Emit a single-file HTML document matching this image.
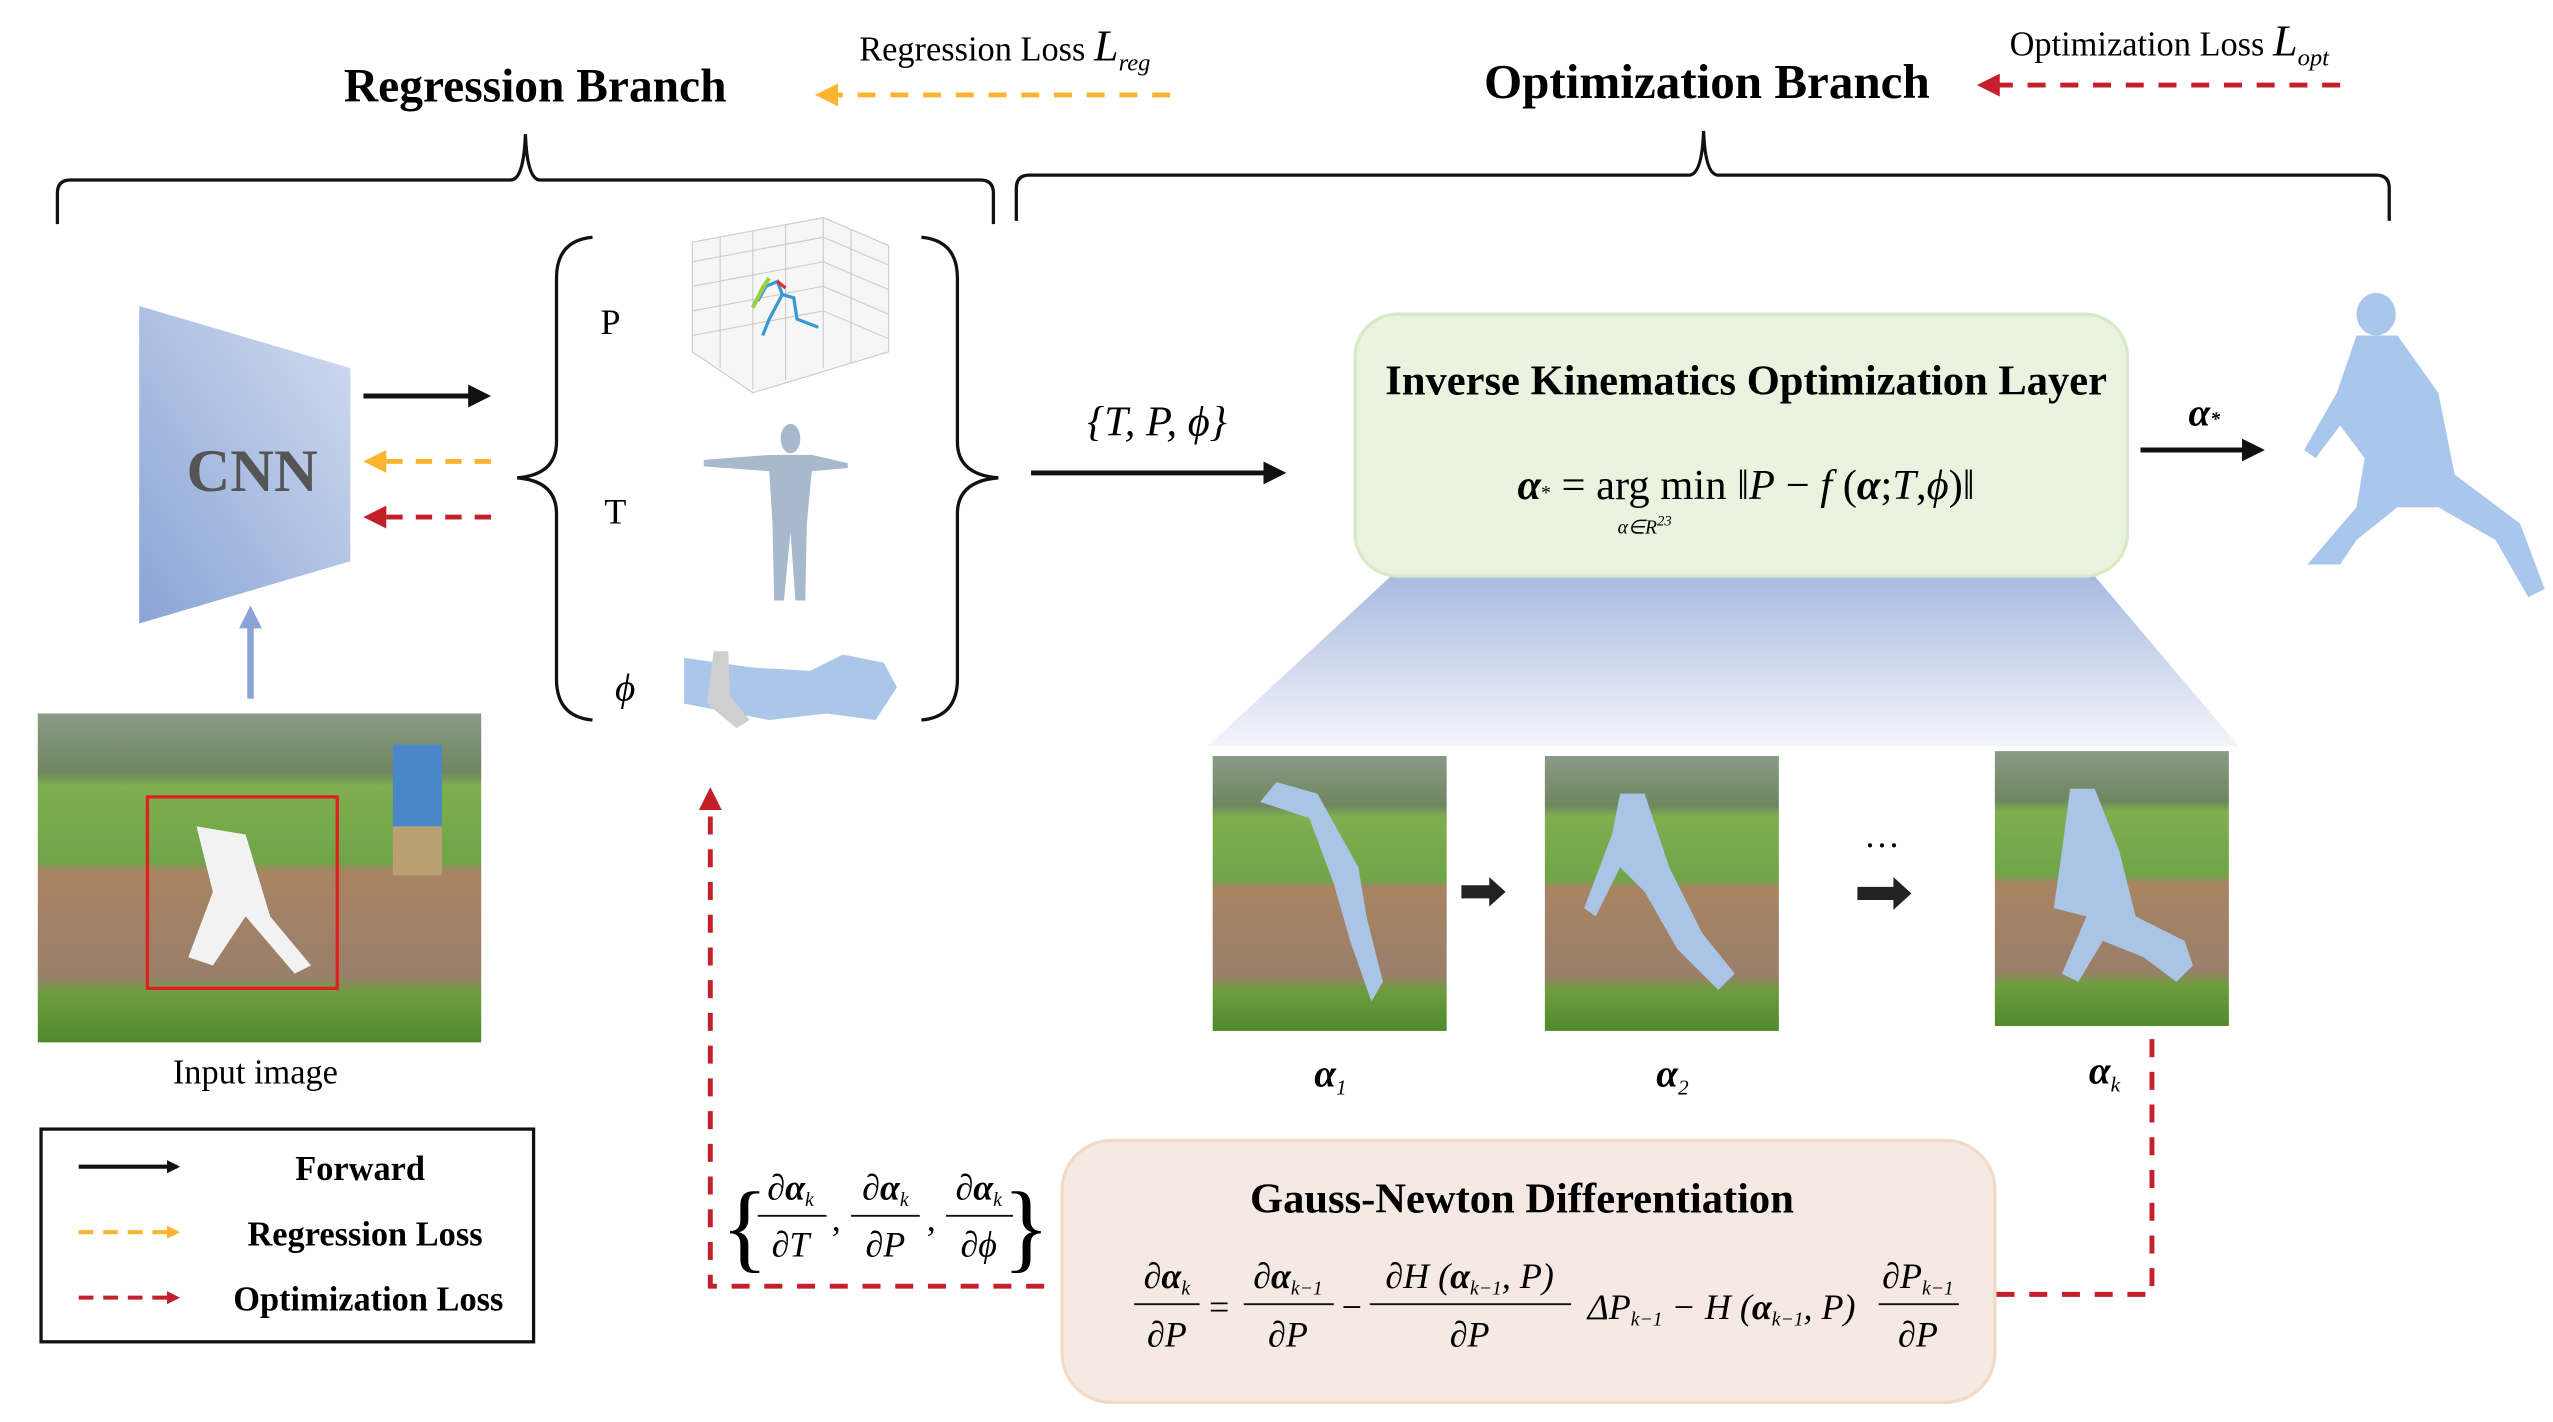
<!DOCTYPE html>
<html><head><meta charset="utf-8"><style>
html,body{margin:0;padding:0;background:#fff;}
svg{display:block;}
text{font-family:"Liberation Serif",serif;}
</style></head><body>
<svg width="2553" height="1422" viewBox="0 0 1560 869" xmlns="http://www.w3.org/2000/svg">
<defs>
<linearGradient id="cnn" x1="0" y1="1" x2="1" y2="0"><stop offset="0" stop-color="#8aa4d6"/><stop offset="1" stop-color="#d2dcef"/></linearGradient>
<linearGradient id="beam" x1="0" y1="0" x2="0" y2="1"><stop offset="0" stop-color="#a9bbe0"/><stop offset="1" stop-color="#f3f5fb"/></linearGradient>
<linearGradient id="ph" x1="0" y1="0" x2="0" y2="1">
<stop offset="0" stop-color="#8a9a86"/><stop offset="0.18" stop-color="#6f8660"/><stop offset="0.22" stop-color="#7fae4e"/><stop offset="0.45" stop-color="#6fa548"/><stop offset="0.48" stop-color="#a88462"/><stop offset="0.8" stop-color="#9a7f6a"/><stop offset="0.85" stop-color="#6f9d3f"/><stop offset="1" stop-color="#4f8a2c"/></linearGradient>
<marker id="ab" markerWidth="8" markerHeight="8" refX="6" refY="4" orient="auto" markerUnits="userSpaceOnUse"><path d="M0,0 L8,4 L0,8z" fill="#111"/></marker>
<marker id="ao" markerWidth="8" markerHeight="8" refX="6" refY="4" orient="auto" markerUnits="userSpaceOnUse"><path d="M0,0 L8,4 L0,8z" fill="#fbb430"/></marker>
<marker id="ar" markerWidth="8" markerHeight="8" refX="6" refY="4" orient="auto" markerUnits="userSpaceOnUse"><path d="M0,0 L8,4 L0,8z" fill="#c3202b"/></marker>
<marker id="al" markerWidth="14" markerHeight="14" refX="10" refY="7" orient="auto" markerUnits="userSpaceOnUse"><path d="M0,0 L14,7 L0,14z" fill="#111"/></marker>
<marker id="alo" markerWidth="14" markerHeight="14" refX="10" refY="7" orient="auto" markerUnits="userSpaceOnUse"><path d="M0,0 L14,7 L0,14z" fill="#fbb430"/></marker>
<marker id="alr" markerWidth="14" markerHeight="14" refX="10" refY="7" orient="auto" markerUnits="userSpaceOnUse"><path d="M0,0 L14,7 L0,14z" fill="#c3202b"/></marker>
<marker id="alb" markerWidth="14" markerHeight="14" refX="10" refY="7" orient="auto" markerUnits="userSpaceOnUse"><path d="M0,0 L14,7 L0,14z" fill="#8aa4d6"/></marker>
</defs>

<!-- Top titles -->
<text x="327" y="62" font-size="29" font-weight="bold" text-anchor="middle">Regression Branch</text>
<text x="525" y="37" font-size="21">Regression Loss <tspan font-style="italic" font-size="27">L</tspan><tspan font-style="italic" font-size="15" dy="6">reg</tspan></text>
<line x1="715" y1="58" x2="502" y2="58" stroke="#fbb430" stroke-width="3" stroke-dasharray="11,9" marker-end="url(#alo)"/>
<text x="1043" y="60" font-size="30" font-weight="bold" text-anchor="middle">Optimization Branch</text>
<text x="1228" y="34" font-size="21">Optimization Loss <tspan font-style="italic" font-size="27">L</tspan><tspan font-style="italic" font-size="15" dy="6">opt</tspan></text>
<line x1="1430" y1="52" x2="1212" y2="52" stroke="#c3202b" stroke-width="3" stroke-dasharray="11,9" marker-end="url(#alr)"/>

<!-- Top braces -->
<path d="M35,137 L35,118 Q35,110 43,110 L312,110 Q320,110 321,82 Q322,110 330,110 L599,110 Q607,110 607,118 L607,137" fill="none" stroke="#111" stroke-width="2"/>
<path d="M621,135 L621,115 Q621,107 629,107 L1032,107 Q1040,107 1041,80 Q1042,107 1050,107 L1452,107 Q1460,107 1460,115 L1460,135" fill="none" stroke="#111" stroke-width="2"/>

<!-- CNN -->
<polygon points="85,187 214,225 214,343 85,381" fill="url(#cnn)"/>
<text x="154" y="300" font-size="37" font-weight="bold" fill="#555" text-anchor="middle">CNN</text>
<line x1="222" y1="242" x2="296" y2="242" stroke="#111" stroke-width="3" marker-end="url(#al)"/>
<line x1="300" y1="282" x2="226" y2="282" stroke="#fbb430" stroke-width="3" stroke-dasharray="10,8" marker-end="url(#alo)"/>
<line x1="300" y1="316" x2="226" y2="316" stroke="#c3202b" stroke-width="3" stroke-dasharray="10,8" marker-end="url(#alr)"/>
<line x1="153" y1="427" x2="153" y2="374" stroke="#8aa4d6" stroke-width="4" marker-end="url(#alb)"/>

<!-- Input image -->
<rect x="23" y="436" width="271" height="201" fill="url(#ph)"/>
<rect x="90" y="487" width="116" height="117" fill="none" stroke="#e02020" stroke-width="2"/>
<path d="M120,505 L150,510 L165,560 L190,590 L180,595 L150,560 L130,590 L115,585 L130,545z" fill="#f2f2f2"/>
<rect x="240" y="455" width="30" height="50" fill="#4a86c8"/><rect x="240" y="505" width="30" height="30" fill="#b8a070"/>
<text x="156" y="662" font-size="21" text-anchor="middle">Input image</text>

<!-- Legend -->
<rect x="25" y="690" width="301" height="130" fill="#fff" stroke="#111" stroke-width="2"/>
<line x1="48" y1="713" x2="108" y2="713" stroke="#111" stroke-width="2.5" marker-end="url(#ab)"/>
<line x1="48" y1="753" x2="108" y2="753" stroke="#fbb430" stroke-width="2.5" stroke-dasharray="9,6" marker-end="url(#ao)"/>
<line x1="48" y1="793" x2="108" y2="793" stroke="#c3202b" stroke-width="2.5" stroke-dasharray="9,6" marker-end="url(#ar)"/>
<text x="220" y="721" font-size="21" font-weight="bold" text-anchor="middle">Forward</text>
<text x="223" y="761" font-size="21" font-weight="bold" text-anchor="middle">Regression Loss</text>
<text x="225" y="801" font-size="21" font-weight="bold" text-anchor="middle">Optimization Loss</text>

<!-- Middle braces -->
<path d="M362,145 Q340,147 340,170 L340,270 Q340,290 316,292 Q340,294 340,314 L340,415 Q340,438 362,440" fill="none" stroke="#111" stroke-width="2"/>
<path d="M563,145 Q585,147 585,170 L585,270 Q585,290 610,292 Q585,294 585,314 L585,415 Q585,438 563,440" fill="none" stroke="#111" stroke-width="2"/>
<text x="373" y="204" font-size="22" text-anchor="middle">P</text>
<text x="376" y="320" font-size="22" text-anchor="middle">T</text>
<text x="382" y="428" font-size="24" font-style="italic" text-anchor="middle">ϕ</text>
<!-- 3D plot -->
<g stroke="#ccc" stroke-width="0.7" fill="none">
<polygon points="423,148 503,133 543,150 543,215 460,240 423,215" fill="#f6f6f6"/>
<path d="M423,160 L503,145 L543,162 M423,175 L503,160 L543,177 M423,190 L503,175 L543,192 M423,205 L503,190 L543,207 M440,145 L440,225 M460,141 L460,238 M480,137 L480,232 M503,133 L503,225 M520,140 L520,222"/>
</g>
<path d="M463,184 L468,175 L475,172 L478,180 L485,182 L487,195 L500,200 M478,180 L470,195 L466,205" fill="none" stroke="#3a9ad0" stroke-width="2"/>
<path d="M460,188 L466,176 L470,170" stroke="#9ad040" stroke-width="2.5" fill="none"/>
<path d="M475,172 L480,176" stroke="#e03030" stroke-width="2"/>
<!-- T-pose -->
<g fill="#a9b9cd">
<ellipse cx="483" cy="268" rx="6" ry="9"/>
<path d="M430,281 L470,278 L496,278 L518,283 L518,286 L496,288 L493,320 L492,367 L486,367 L483,325 L479,367 L473,367 L472,320 L470,288 L430,285z"/>
</g>
<!-- Arm -->
<path d="M418,402 L460,408 L495,410 L515,400 L540,405 L548,420 L535,440 L505,436 L470,440 L418,430z" fill="#aac6e8"/>
<path d="M436,398 L432,430 L450,445 L458,440 L446,425 L445,398z" fill="#cfcfcf"/>

<!-- {T,P,phi} arrow -->
<text x="707" y="266" font-size="26" font-style="italic" text-anchor="middle">{T, P, ϕ}</text>
<line x1="630" y1="289" x2="782" y2="289" stroke="#111" stroke-width="3" marker-end="url(#al)"/>

<!-- Beam -->
<polygon points="850,352 1280,352 1368,456 738,456" fill="url(#beam)"/>

<!-- IK box -->
<rect x="828" y="192" width="472" height="160" rx="26" fill="#eaf3e0" stroke="#d7e9c6" stroke-width="2"/>
<text x="1067" y="241" font-size="26" font-weight="bold" text-anchor="middle">Inverse Kinematics Optimization Layer</text>
<text x="1067" y="305" font-size="26" text-anchor="middle"><tspan font-weight="bold" font-style="italic">α</tspan><tspan font-size="12">*</tspan> = arg min ‖<tspan font-style="italic">P</tspan> − <tspan font-style="italic">f</tspan> (<tspan font-weight="bold" font-style="italic">α</tspan>;<tspan font-style="italic">T</tspan>,<tspan font-style="italic">ϕ</tspan>)‖</text>
<text x="1005" y="326" font-size="12" font-style="italic" text-anchor="middle">α∈R<tspan font-size="9" dy="-5">23</tspan></text>

<!-- alpha* arrow and figure -->
<text x="1347" y="260" font-size="24" font-weight="bold" font-style="italic" text-anchor="middle">α<tspan font-size="12">*</tspan></text>
<line x1="1308" y1="275" x2="1380" y2="275" stroke="#111" stroke-width="3" marker-end="url(#al)"/>
<g fill="#a9c7ec">
<ellipse cx="1452" cy="192" rx="12" ry="13"/>
<path d="M1440,205 L1465,205 L1490,240 L1500,290 L1540,320 L1555,360 L1545,365 L1525,330 L1490,310 L1465,310 L1440,330 L1430,345 L1410,345 L1440,310 L1445,280 L1430,260 L1415,280 L1408,275 L1428,240z"/>
</g>

<!-- Photos -->
<g>
<rect x="741" y="462" width="143" height="168" fill="url(#ph)"/>
<path d="M780,478 L805,485 L830,530 L835,560 L845,600 L838,612 L825,575 L815,540 L800,500 L770,490z" fill="#aac4e6"/>
<rect x="944" y="462" width="143" height="168" fill="url(#ph)"/>
<path d="M990,485 L1005,485 L1020,530 L1040,570 L1060,595 L1050,605 L1025,580 L1005,545 L990,530 L975,560 L968,555 L985,510z" fill="#aac4e6"/>
<rect x="1219" y="459" width="143" height="168" fill="url(#ph)"/>
<path d="M1265,482 L1280,482 L1295,520 L1305,560 L1335,575 L1340,590 L1330,600 L1310,585 L1285,575 L1270,600 L1260,595 L1275,560 L1255,555 L1260,520z" fill="#aac4e6"/>
</g>
<polygon points="893,541 910,541 910,536 920,545 910,554 910,549 893,549" fill="#222"/>
<polygon points="1135,542 1157,542 1157,536 1168,546 1157,556 1157,550 1135,550" fill="#222"/>
<text x="1150" y="524" font-size="22" text-anchor="middle">···</text>
<text x="813" y="664" font-size="24" font-weight="bold" font-style="italic" text-anchor="middle">α<tspan font-size="13" font-weight="normal" dy="5">1</tspan></text>
<text x="1022" y="664" font-size="24" font-weight="bold" font-style="italic" text-anchor="middle">α<tspan font-size="13" font-weight="normal" dy="5">2</tspan></text>
<text x="1286" y="662" font-size="24" font-weight="bold" font-style="italic" text-anchor="middle">α<tspan font-size="13" font-weight="normal" dy="5">k</tspan></text>

<!-- Red dashed loops -->
<path d="M1220,791 L1315,791 L1315,630" fill="none" stroke="#c3202b" stroke-width="3" stroke-dasharray="11,9"/>
<path d="M638,786 L434,786 L434,485" fill="none" stroke="#c3202b" stroke-width="3" stroke-dasharray="11,9" marker-end="url(#alr)"/>

<!-- Gauss-Newton box -->
<rect x="649" y="697" width="570" height="160" rx="30" fill="#f4e9e3" stroke="#f0dcc6" stroke-width="2"/>
<text x="930" y="741" font-size="26" font-weight="bold" text-anchor="middle">Gauss-Newton Differentiation</text>
<g font-size="22" font-style="italic" text-anchor="middle">
<text x="713" y="787">∂<tspan font-weight="bold">α</tspan><tspan font-size="12" dy="4">k</tspan></text>
<line x1="693" y1="797" x2="733" y2="797" stroke="#111" stroke-width="1.2"/>
<text x="713" y="823">∂P</text>
<text x="745" y="806" font-style="normal">=</text>
<text x="787" y="787">∂<tspan font-weight="bold">α</tspan><tspan font-size="12" dy="4">k−1</tspan></text>
<line x1="760" y1="797" x2="815" y2="797" stroke="#111" stroke-width="1.2"/>
<text x="787" y="823">∂P</text>
<text x="826" y="806" font-style="normal">−</text>
<text x="898" y="787">∂H (<tspan font-weight="bold">α</tspan><tspan font-size="12" dy="4">k−1</tspan><tspan dy="-4">, P)</tspan></text>
<line x1="837" y1="797" x2="960" y2="797" stroke="#111" stroke-width="1.2"/>
<text x="898" y="823">∂P</text>
<text x="1052" y="806" text-anchor="middle">ΔP<tspan font-size="12" dy="4">k−1</tspan><tspan dy="-4"> − H (</tspan><tspan font-weight="bold">α</tspan><tspan font-size="12" dy="4">k−1</tspan><tspan dy="-4">, P)</tspan></text>
<text x="1172" y="787">∂P<tspan font-size="12" dy="4">k−1</tspan></text>
<line x1="1148" y1="797" x2="1197" y2="797" stroke="#111" stroke-width="1.2"/>
<text x="1172" y="823">∂P</text>
</g>

<!-- Partial set -->
<g font-size="22" font-style="italic" text-anchor="middle">
<text x="455" y="770" font-size="60" font-style="normal" font-weight="normal">{</text>
<text x="483" y="733">∂<tspan font-weight="bold">α</tspan><tspan font-size="12" dy="4">k</tspan></text>
<line x1="463" y1="743" x2="505" y2="743" stroke="#111" stroke-width="1.2"/>
<text x="483" y="768">∂T</text>
<text x="511" y="752" font-style="normal">,</text>
<text x="541" y="733">∂<tspan font-weight="bold">α</tspan><tspan font-size="12" dy="4">k</tspan></text>
<line x1="520" y1="743" x2="562" y2="743" stroke="#111" stroke-width="1.2"/>
<text x="541" y="768">∂P</text>
<text x="569" y="752" font-style="normal">,</text>
<text x="598" y="733">∂<tspan font-weight="bold">α</tspan><tspan font-size="12" dy="4">k</tspan></text>
<line x1="578" y1="743" x2="619" y2="743" stroke="#111" stroke-width="1.2"/>
<text x="598" y="768">∂ϕ</text>
<text x="627" y="770" font-size="60" font-style="normal">}</text>
</g>
</svg>
</body></html>
